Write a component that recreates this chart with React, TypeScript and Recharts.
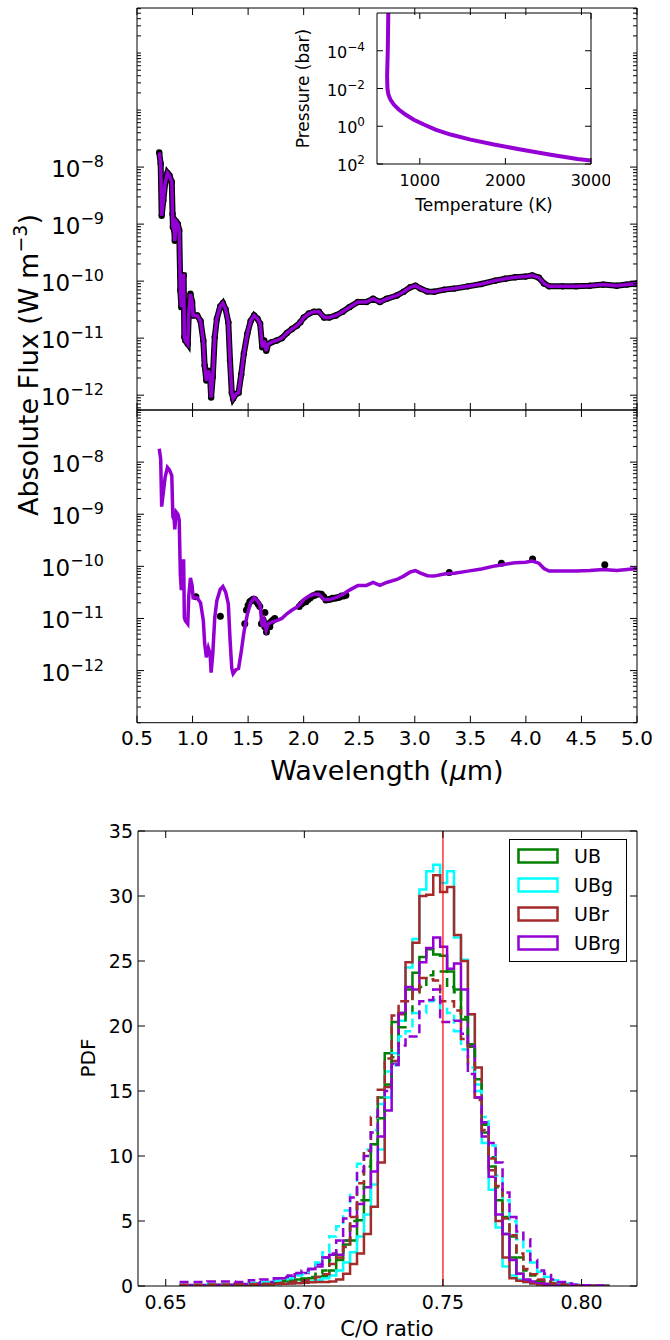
import React from "react"
import {
  ComposedChart, Line, Scatter, XAxis, YAxis, ReferenceLine, Legend,
} from "recharts"

const FONT = "'DejaVu Sans', 'Liberation Sans', sans-serif"
const PURPLE = "#9400d3"

// model spectrum (wavelength in micron, flux in W m^-3)
const WAVE = [
  0.700, 0.713, 0.722, 0.737, 0.753, 0.774, 0.792, 0.813, 0.820, 0.823,
  0.835, 0.840, 0.853, 0.868, 0.880, 0.890, 0.899, 0.911, 0.920, 0.926,
  0.935, 0.957, 0.966, 0.981, 0.996, 1.005, 1.042, 1.072, 1.097, 1.109,
  1.124, 1.142, 1.158, 1.167, 1.182, 1.200, 1.219, 1.249, 1.273, 1.298,
  1.322, 1.337, 1.353, 1.365, 1.392, 1.414, 1.438, 1.462, 1.493, 1.523,
  1.554, 1.584, 1.608, 1.627, 1.645, 1.663, 1.681, 1.712, 1.758, 1.803,
  1.849, 1.895, 1.940, 1.970, 2.001, 2.047, 2.092, 2.138, 2.184, 2.230,
  2.290, 2.351, 2.412, 2.488, 2.565, 2.625, 2.686, 2.747, 2.839, 2.900,
  2.960, 3.006, 3.052, 3.113, 3.174, 3.265, 3.356, 3.478, 3.600, 3.722,
  3.813, 3.904, 3.996, 4.057, 4.117, 4.163, 4.209, 4.330, 4.452, 4.574,
  4.696, 4.818, 4.909, 5.000,
]
const FLUX = [
  1.8e-8, 1.15e-8, 1.4e-9, 2.6e-9, 5.1e-9, 7.9e-9, 7.1e-9, 5.5e-9, 1.5e-9, 8.9e-10,
  7.8e-10, 5.1e-10, 1.1e-9, 1.0e-9, 7.8e-10, 6.9e-11, 3.5e-11, 1.26e-10, 1.26e-10, 1.05e-11,
  9.1e-12, 7.9e-12, 2.7e-11, 6.0e-11, 4.3e-11, 2.5e-11, 2.5e-11, 2.0e-11, 9.1e-12, 3.3e-12,
  1.8e-12, 2.7e-12, 2.1e-12, 9.1e-13, 2.1e-12, 1.05e-11, 2.2e-11, 3.6e-11, 4.1e-11, 3.2e-11,
  1.9e-11, 4.1e-12, 1.1e-12, 8.7e-13, 1.05e-12, 1.1e-12, 2.3e-12, 5.4e-12, 1.2e-11, 2.0e-11,
  2.5e-11, 2.2e-11, 1.8e-11, 6.9e-12, 9.1e-12, 6.0e-12, 7.9e-12, 8.5e-12, 9.1e-12, 1.0e-11,
  1.23e-11, 1.45e-11, 1.66e-11, 1.9e-11, 2.3e-11, 2.7e-11, 2.9e-11, 2.9e-11, 2.3e-11, 2.3e-11,
  2.5e-11, 2.9e-11, 3.5e-11, 4.3e-11, 4.3e-11, 4.9e-11, 4.3e-11, 4.9e-11, 5.6e-11, 6.5e-11,
  7.8e-11, 8.3e-11, 7.4e-11, 6.6e-11, 6.5e-11, 7.1e-11, 7.4e-11, 8.1e-11, 8.9e-11, 1.02e-10,
  1.1e-10, 1.17e-10, 1.2e-10, 1.26e-10, 1.15e-10, 9.1e-11, 8.1e-11, 8.1e-11, 8.1e-11, 8.3e-11,
  8.7e-11, 8.3e-11, 8.7e-11, 9.1e-11,
]

// observations in the lower panel
const OBS_WAVE = [
  1.03, 1.25,
  1.470, 1.485, 1.500, 1.515, 1.530, 1.545, 1.560, 1.575, 1.590, 1.605,
  1.620, 1.635, 1.650, 1.651, 1.665, 1.680, 1.695, 1.710, 1.725, 1.740,
  1.96, 1.98, 2.00, 2.02, 2.04, 2.06, 2.08, 2.10, 2.12, 2.14, 2.16,
  2.18, 2.20, 2.22, 2.24, 2.26, 2.28, 2.30, 2.32, 2.34, 2.36, 2.38,
  3.31, 3.78, 4.06, 4.71,
]
const OBS_FLUX = [
  2.6e-11, 1.1e-11,
  7.9e-12, 1.45e-11, 1.8e-11, 2.1e-11, 2.2e-11, 2.35e-11, 2.3e-11, 2.1e-11, 1.9e-11, 1.7e-11,
  7.9e-12, 9.3e-12, 6.9e-12, 1.3e-11, 5.5e-12, 7.9e-12, 6.9e-12, 8.7e-12, 9.3e-12, 1.0e-11,
  1.7e-11, 1.9e-11, 2.05e-11, 2.1e-11, 2.3e-11, 2.5e-11, 2.7e-11, 2.8e-11, 2.95e-11, 2.95e-11, 2.9e-11,
  2.6e-11, 2.25e-11, 2.3e-11, 2.35e-11, 2.45e-11, 2.45e-11, 2.5e-11, 2.55e-11, 2.7e-11, 2.7e-11, 2.8e-11,
  7.6e-11, 1.15e-10, 1.38e-10, 1.07e-10,
]

// pressure-temperature profile (inset)
const TEMP = [632, 626, 618, 622, 633, 657, 696, 754, 832, 930, 1047, 1183, 1359, 1593, 1866, 2178, 2529, 2841, 3000]
const PRES = [1e-6, 8.9e-5, 2.2e-3, 1e-2, 0.021, 0.039, 0.071, 0.13, 0.24, 0.45, 0.81, 1.5, 2.75, 5.1, 9.3, 17, 32, 54, 66]

// C/O histograms: bin edges and PDF per bin
const CO_EDGES = [
  0.655, 0.665, 0.675, 0.68, 0.684,
  0.689, 0.6915, 0.694, 0.6965, 0.699, 0.7015, 0.704, 0.7065, 0.709, 0.7115,
  0.714, 0.7165, 0.719, 0.7215, 0.724, 0.7265, 0.729, 0.7315, 0.734, 0.7365,
  0.739, 0.7415, 0.744, 0.7465, 0.749, 0.7515, 0.754, 0.7565, 0.759, 0.7615,
  0.764, 0.7665, 0.769, 0.7715, 0.774, 0.7765, 0.779, 0.7815, 0.784, 0.7865,
  0.789, 0.7915, 0.794, 0.7965, 0.799, 0.805, 0.81,
]
const UB = [0.05, 0.08, 0.12, 0.15, 0.2, 0.35, 0.4, 0.45, 0.5, 0.55, 0.6, 0.7, 0.75, 1.2, 2.0, 3.2, 3.5, 5.05, 6.6, 10.9, 14.5, 17.9, 20.3, 21.0, 22.8, 24.1, 25.3, 25.9, 25.5, 25.4, 24.2, 22.8, 20.5, 18.4, 15.9, 11.8, 9.2, 6.6, 4.0, 2.2, 0.95, 0.4, 0.3, 0.2, 0.15, 0.1, 0.07, 0.05, 0.03, 0.02, 0.01]
const UBG = [0.03, 0.05, 0.08, 0.1, 0.12, 0.15, 0.18, 0.2, 0.25, 0.3, 0.35, 0.45, 0.6, 0.8, 1.2, 1.8, 2.6, 3.8, 5.5, 7.8, 10.5, 14.5, 17.9, 20.4, 24.5, 26.7, 30.5, 31.9, 32.4, 31.0, 31.9, 26.8, 25.1, 20.9, 15.5, 11.0, 7.4, 4.5, 1.5, 0.8, 0.5, 0.3, 0.2, 0.15, 0.1, 0.07, 0.05, 0.03, 0.02, 0.01, 0.0]
const UBR = [0.02, 0.05, 0.08, 0.1, 0.12, 0.15, 0.18, 0.2, 0.22, 0.25, 0.28, 0.3, 0.3, 0.35, 0.5, 0.95, 1.7, 2.5, 4.0, 6.1, 9.5, 15.3, 17.3, 20.9, 24.9, 26.4, 30.0, 30.1, 31.6, 30.3, 30.7, 27.0, 25.0, 20.9, 16.8, 12.5, 8.9, 5.0, 2.2, 0.6, 0.4, 0.3, 0.2, 0.12, 0.08, 0.05, 0.03, 0.02, 0.01, 0.0, 0.0]
const UBRG = [0.08, 0.1, 0.15, 0.2, 0.3, 0.45, 0.6, 0.7, 0.9, 1.0, 1.3, 1.7, 2.2, 2.4, 2.4, 3.5, 4.6, 6.3, 7.6, 8.8, 11.5, 13.5, 17.1, 21.0, 23.0, 22.8, 24.9, 26.0, 26.8, 26.1, 24.4, 24.8, 22.8, 18.5, 14.5, 11.5, 8.4, 5.5, 4.0, 2.0, 0.95, 0.5, 0.35, 0.25, 0.15, 0.1, 0.07, 0.05, 0.03, 0.02, 0.01]
const UB_D = [0.05, 0.08, 0.12, 0.15, 0.2, 0.25, 0.3, 0.35, 0.45, 0.55, 0.7, 0.95, 1.2, 2.0, 2.6, 3.5, 5.0, 6.6, 9.2, 10.9, 12.9, 15.5, 17.6, 19.9, 21.0, 22.6, 23.0, 23.9, 24.2, 24.2, 23.0, 22.6, 20.7, 18.6, 15.5, 12.4, 9.9, 7.6, 5.3, 3.8, 2.2, 1.2, 0.8, 0.4, 0.3, 0.2, 0.12, 0.08, 0.05, 0.03, 0.01]
const UBG_D = [0.1, 0.15, 0.2, 0.25, 0.3, 0.4, 0.5, 0.6, 0.8, 0.9, 1.3, 1.8, 2.6, 3.8, 4.6, 5.8, 7.0, 9.4, 10.5, 12.0, 14.0, 16.5, 17.0, 19.2, 19.6, 21.0, 21.0, 21.9, 22.0, 21.3, 21.0, 19.6, 18.2, 16.8, 15.0, 13.0, 10.8, 8.5, 6.6, 5.0, 3.6, 2.7, 1.8, 1.1, 0.7, 0.45, 0.3, 0.2, 0.12, 0.06, 0.03]
const UBR_D = [0.1, 0.12, 0.15, 0.15, 0.18, 0.2, 0.25, 0.3, 0.35, 0.4, 0.5, 0.7, 0.9, 1.7, 2.2, 3.0, 5.3, 7.9, 10.4, 13.0, 15.1, 17.5, 20.8, 21.9, 21.9, 22.6, 23.7, 23.6, 23.5, 21.9, 21.9, 21.2, 19.0, 17.2, 14.3, 12.0, 9.8, 7.7, 5.2, 3.9, 2.5, 1.3, 0.9, 0.5, 0.35, 0.2, 0.15, 0.1, 0.06, 0.03, 0.01]
const UBRG_D = [0.3, 0.35, 0.3, 0.45, 0.5, 0.6, 0.7, 0.8, 1.0, 1.2, 1.3, 1.5, 2.2, 2.5, 3.5, 5.2, 6.8, 8.8, 10.0, 11.8, 13.6, 15.0, 17.0, 18.5, 19.2, 19.2, 21.9, 22.0, 22.8, 20.3, 20.3, 20.4, 19.4, 16.3, 14.5, 12.6, 11.0, 9.5, 7.2, 5.3, 4.2, 3.6, 2.0, 1.2, 0.95, 0.5, 0.3, 0.2, 0.12, 0.06, 0.03]

// ticks
const WL_TICKS = [0.5, 1.0, 1.5, 2.0, 2.5, 3.0, 3.5, 4.0, 4.5, 5.0]
const TEMP_TICKS = [1000, 2000, 3000]
const PRES_TICKS = [1e-6, 1e-4, 1e-2, 1, 100]
const CO_TICKS = [0.65, 0.7, 0.75, 0.8]
const PDF_TICKS = [0, 5, 10, 15, 20, 25, 30, 35]

const HIST_SERIES = [
  { key: "ub", name: "UB", color: "#008000", vals: UB, dash: false },
  { key: "ubg", name: "UBg", color: "#00ffff", vals: UBG, dash: false },
  { key: "ubr", name: "UBr", color: "#a52a2a", vals: UBR, dash: false },
  { key: "ubrg", name: "UBrg", color: PURPLE, vals: UBRG, dash: false },
  { key: "ubD", name: "UB dashed", color: "#008000", vals: UB_D, dash: true },
  { key: "ubgD", name: "UBg dashed", color: "#00ffff", vals: UBG_D, dash: true },
  { key: "ubrD", name: "UBr dashed", color: "#a52a2a", vals: UBR_D, dash: true },
  { key: "ubrgD", name: "UBrg dashed", color: PURPLE, vals: UBRG_D, dash: true },
]
const LEGEND_NAMES = HIST_SERIES.filter(s => !s.dash).map(s => s.name)

const SPEC = WAVE.map((wl, i) => ({ wl, f: FLUX[i] }))
const OBS = OBS_WAVE.map((wl, i) => ({ wl, f: OBS_FLUX[i] }))
const PT = TEMP.map((T, i) => ({ T, P: PRES[i] }))
const CO_ROWS = CO_EDGES.map((x, i) => {
  const row: Record<string, number> = { x }
  const j = Math.min(i, CO_EDGES.length - 2)
  HIST_SERIES.forEach(s => { row[s.key] = s.vals[j] ?? 0 })
  return row
})

const TOP_LO = Math.pow(10, -12.26)
const TOP_HI = Math.pow(10, -5.21)

const logTicks = (lo: number, hi: number) => {
  const out: number[] = []
  const a = Math.log10(lo), b = Math.log10(hi)
  for (let e = Math.floor(a); e <= Math.ceil(b); e++) {
    for (let m = 1; m <= 9; m++) {
      const v = m * Math.pow(10, e)
      const l = Math.log10(v)
      if (l >= a - 1e-9 && l <= b + 1e-9) out.push(v)
    }
  }
  return out
}
const isDecade = (v: number) => Math.abs(Math.log10(v) - Math.round(Math.log10(v))) < 1e-6
const labelledDecade = (v: number) => isDecade(v) && v > 0.9e-12 && v < 1.1e-8

const pow10 = (sfs: number, rise: number) => (v: number) => {
  const e = Math.round(Math.log10(v))
  return [
    <tspan key="b">10</tspan>,
    <tspan key="s" fontSize={sfs} dy={-rise}>{e < 0 ? `\u2212${-e}` : `${e}`}</tspan>,
  ]
}

type TickOpts = {
  side: "left" | "right" | "top" | "bottom"
  gap: number
  major: number
  minor?: number
  isMajor?: (v: number) => boolean
  label?: (v: number) => React.ReactNode
  fs?: number
  dy?: number
}

const tickFor = (o: TickOpts) => (p: any) => {
  const v = p.payload.value as number
  const big = o.isMajor ? o.isMajor(v) : true
  const len = big ? o.major : (o.minor ?? 0)
  let x1 = p.x, x2 = p.x, y1 = p.y, y2 = p.y
  if (o.side === "left") { x1 = p.x + o.gap; x2 = x1 + len }
  if (o.side === "right") { x1 = p.x - o.gap; x2 = x1 - len }
  if (o.side === "bottom") { y1 = p.y - o.gap; y2 = y1 - len }
  if (o.side === "top") { y1 = p.y + o.gap; y2 = y1 + len }
  const content = big && o.label ? o.label(v) : null
  const anchor = o.side === "left" ? "end" : o.side === "right" ? "start" : "middle"
  return (
    <g>
      {len > 0 && <line x1={x1} y1={y1} x2={x2} y2={y2} stroke="#000" strokeWidth={1} />}
      {content != null && (
        <text x={p.x} y={p.y + (o.dy ?? 0)} textAnchor={anchor} fontSize={o.fs}
          fontFamily={FONT} fill="#000">{content}</text>
      )}
    </g>
  )
}

const AX = { stroke: "#000", strokeWidth: 1 }

function SpectrumPanel({ top, height, lo, hi, withLabels, children }: any) {
  const yt = logTicks(lo, hi)
  const plotBottom = withLabels ? 77.3 : 10
  return (
    <div style={{ position: "absolute", left: 0, top }}>
      <ComposedChart width={670} height={height} data={SPEC}
        margin={{ top: 0, right: 0, bottom: 0, left: 0 }}>
        <XAxis dataKey="wl" type="number" domain={[0.5, 5]} ticks={WL_TICKS} interval={0}
          allowDataOverflow height={plotBottom} tickSize={0} tickMargin={0} tickLine={false}
          axisLine={AX}
          tick={tickFor({
            side: "bottom", gap: 0, major: 7, fs: 20, dy: 22,
            label: withLabels ? (v: number) => v.toFixed(1) : undefined,
          })} />
        <XAxis xAxisId="t" orientation="top" dataKey="wl" type="number" domain={[0.5, 5]}
          ticks={WL_TICKS} interval={0} allowDataOverflow height={withLabels ? 10 : 8}
          tickSize={0} tickMargin={0} tickLine={false} axisLine={AX}
          tick={tickFor({ side: "top", gap: 0, major: 7 })} />
        <YAxis dataKey="f" type="number" scale="log" domain={[lo, hi]} ticks={yt} interval={0}
          allowDataOverflow width={137} tickSize={0} tickMargin={33} tickLine={false} axisLine={AX}
          tick={tickFor({
            side: "left", gap: 33, major: 7, minor: 4, isMajor: labelledDecade,
            label: pow10(16, 10), fs: 23, dy: 10,
          })} />
        <YAxis yAxisId="r" orientation="right" type="number" scale="log" domain={[lo, hi]}
          ticks={yt} interval={0} allowDataOverflow width={33} tickSize={0} tickMargin={0}
          tickLine={false} axisLine={AX}
          tick={tickFor({ side: "right", gap: 0, major: 7, minor: 4, isMajor: labelledDecade })} />
        {children}
      </ComposedChart>
    </div>
  )
}

function Inset() {
  return (
    <div style={{ position: "absolute", left: 280, top: 0 }}>
      <ComposedChart width={330} height={230} data={PT} margin={{ top: 0, right: 0, bottom: 0, left: 0 }}>
        <XAxis dataKey="T" type="number" domain={[500, 3000]} ticks={TEMP_TICKS} interval={0}
          allowDataOverflow height={66} tickSize={0} tickMargin={0} tickLine={false} axisLine={AX}
          tick={tickFor({ side: "bottom", gap: 0, major: 6, fs: 16, dy: 22, label: (v: number) => `${v}` })} />
        <XAxis xAxisId="t" orientation="top" dataKey="T" type="number" domain={[500, 3000]}
          ticks={TEMP_TICKS} interval={0} allowDataOverflow height={13} tickSize={0} tickMargin={0}
          tickLine={false} axisLine={AX} tick={tickFor({ side: "top", gap: 0, major: 6 })} />
        <YAxis dataKey="P" type="number" scale="log" reversed domain={[1e-6, 100]} ticks={PRES_TICKS}
          interval={0} allowDataOverflow width={97} tickSize={0} tickMargin={12} tickLine={false}
          axisLine={AX}
          tick={tickFor({
            side: "left", gap: 12, major: 6, isMajor: (v: number) => v > 1e-5,
            label: pow10(12, 7), fs: 16, dy: 7,
          })} />
        <YAxis yAxisId="r" orientation="right" type="number" scale="log" reversed domain={[1e-6, 100]}
          ticks={PRES_TICKS} interval={0} allowDataOverflow width={19} tickSize={0} tickMargin={0}
          tickLine={false} axisLine={AX}
          tick={tickFor({ side: "right", gap: 0, major: 6, isMajor: (v: number) => v > 1e-5 })} />
        <Line dataKey="P" type="linear" stroke={PURPLE} strokeWidth={4} dot={false}
          activeDot={false} isAnimationActive={false} />
      </ComposedChart>
    </div>
  )
}

const renderLegend = (props: any) => {
  const items = ((props.payload ?? []) as any[]).filter(it => LEGEND_NAMES.includes(it.value))
  return (
    <div style={{
      position: "relative", width: 118, height: 123, boxSizing: "border-box",
      border: "1px solid #000", background: "#fff", fontFamily: FONT,
    }}>
      {items.map((it, i) => (
        <div key={i} style={{
          position: "absolute", left: 7, top: 8 + i * 29, height: 16,
          display: "flex", alignItems: "center",
        }}>
          <svg width={42} height={16}>
            <rect x={1.5} y={1.5} width={39} height={13} fill="none" stroke={it.color} strokeWidth={2.5} />
          </svg>
          <span style={{ marginLeft: 15, fontSize: 19, lineHeight: "16px", color: "#000" }}>{it.value}</span>
        </div>
      ))}
    </div>
  )
}

function Histogram() {
  return (
    <div style={{ position: "absolute", left: 0, top: 800 }}>
      <ComposedChart width={670} height={540} data={CO_ROWS} margin={{ top: 0, right: 0, bottom: 0, left: 0 }}>
        <XAxis dataKey="x" type="number" domain={[0.64, 0.82]} ticks={CO_TICKS} interval={0}
          allowDataOverflow height={54} tickSize={0} tickMargin={0} tickLine={false} axisLine={AX}
          tick={tickFor({ side: "bottom", gap: 0, major: 7, fs: 19, dy: 23, label: (v: number) => v.toFixed(2) })} />
        <XAxis xAxisId="t" orientation="top" dataKey="x" type="number" domain={[0.64, 0.82]}
          ticks={CO_TICKS} interval={0} allowDataOverflow height={31} tickSize={0} tickMargin={0}
          tickLine={false} axisLine={AX} tick={tickFor({ side: "top", gap: 0, major: 7 })} />
        <YAxis type="number" domain={[0, 35]} ticks={PDF_TICKS} interval={0} allowDataOverflow
          width={138} tickSize={0} tickMargin={5} tickLine={false} axisLine={AX}
          tick={tickFor({ side: "left", gap: 5, major: 7, fs: 19, dy: 7, label: (v: number) => `${v}` })} />
        <YAxis yAxisId="r" orientation="right" type="number" domain={[0, 35]} ticks={PDF_TICKS}
          interval={0} allowDataOverflow width={33} tickSize={0} tickMargin={0} tickLine={false}
          axisLine={AX} tick={tickFor({ side: "right", gap: 0, major: 7 })} />
        {HIST_SERIES.map(s => (
          <Line key={s.key} dataKey={s.key} name={s.name} type="stepAfter" stroke={s.color}
            strokeWidth={2.5} strokeDasharray={s.dash ? "9 5" : undefined} dot={false}
            activeDot={false} isAnimationActive={false} legendType={s.dash ? "none" : "rect"} />
        ))}
        <ReferenceLine x={0.75} stroke="#ff0000" strokeWidth={1.2} />
        <Legend layout="vertical" align="center" verticalAlign="middle" content={renderLegend}
          wrapperStyle={{ left: 509, top: 39, width: 118, height: 123 }} />
      </ComposedChart>
    </div>
  )
}

function Titles() {
  return (
    <svg width={670} height={1340} style={{ position: "absolute", left: 0, top: 0, pointerEvents: "none" }}
      fontFamily={FONT} fill="#000">
      <text transform="translate(38,365) rotate(-90)" textAnchor="middle" fontSize={27}>
        Absolute Flux (W m<tspan fontSize={19} dy={-11}>{"\u22123"}</tspan><tspan dy={11}>)</tspan>
      </text>
      <text x={387} y={780} textAnchor="middle" fontSize={27}>
        Wavelength (<tspan fontStyle="italic">μ</tspan>m)
      </text>
      <text x={484} y={211} textAnchor="middle" fontSize={17}>Temperature (K)</text>
      <text transform="translate(309,88.5) rotate(-90)" textAnchor="middle" fontSize={17}>Pressure (bar)</text>
      <text transform="translate(95,1058) rotate(-90)" textAnchor="middle" fontSize={20}>PDF</text>
      <text x={387} y={1336} textAnchor="middle" fontSize={21}>C/O ratio</text>
    </svg>
  )
}

export default function App() {
  return (
    <div style={{ position: "absolute", left: 0, top: 0, width: 670, height: 1340, background: "#fff" }}>
      <SpectrumPanel top={0} height={420} lo={TOP_LO} hi={TOP_HI} withLabels={false}>
        <Scatter data={SPEC} dataKey="f" fill="#000" isAnimationActive={false} zIndex={350}
          shape={(p: any) => <circle cx={p.cx} cy={p.cy} r={3.2} fill="#000" />} />
        <Line dataKey="f" type="linear" stroke="#000" strokeWidth={6} dot={false}
          activeDot={false} isAnimationActive={false} />
        <Line dataKey="f" type="linear" stroke={PURPLE} strokeWidth={3.5} dot={false}
          activeDot={false} isAnimationActive={false} />
      </SpectrumPanel>
      <SpectrumPanel top={400} height={400} lo={1e-13} hi={1e-7} withLabels>
        <Scatter data={OBS} dataKey="f" fill="#000" isAnimationActive={false} zIndex={350}
          shape={(p: any) => <circle cx={p.cx} cy={p.cy} r={3.5} fill="#000" />} />
        <Line dataKey="f" type="linear" stroke={PURPLE} strokeWidth={3.5} dot={false}
          activeDot={false} isAnimationActive={false} />
      </SpectrumPanel>
      <Inset />
      <Histogram />
      <Titles />
    </div>
  )
}
